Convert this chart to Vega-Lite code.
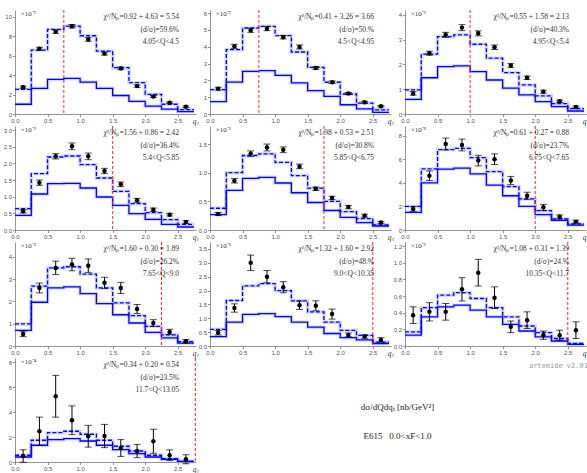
{
"$schema":"https://vega.github.io/schema/vega-lite/v6.json",
"background":"white",
"padding":{"left":3,"top":9,"right":0,"bottom":0},
"datasets":{
"b":[
{"p":1,"q":0.125,"lo":0,"hi":0.25,"y":2.75,"e":0.12,"d":2.53,"s":1.0},
{"p":1,"q":0.375,"lo":0.25,"hi":0.5,"y":6.7,"e":0.15,"d":6.56,"s":2.63},
{"p":1,"q":0.625,"lo":0.5,"hi":0.75,"y":8.45,"e":0.18,"d":8.68,"s":3.55},
{"p":1,"q":0.875,"lo":0.75,"hi":1,"y":9.0,"e":0.18,"d":9.02,"s":3.65},
{"p":1,"q":1.125,"lo":1,"hi":1.25,"y":7.65,"e":0.18,"d":8.03,"s":3.28},
{"p":1,"q":1.375,"lo":1.25,"hi":1.5,"y":6.2,"e":0.15,"d":6.46,"s":2.63},
{"p":1,"q":1.625,"lo":1.5,"hi":1.75,"y":4.68,"e":0.13,"d":4.75,"s":1.9},
{"p":1,"q":1.875,"lo":1.75,"hi":2,"y":2.86,"e":0.12,"d":3.21,"s":1.3},
{"p":1,"q":2.125,"lo":2,"hi":2.25,"y":1.8,"e":0.1,"d":2.02,"s":0.8},
{"p":1,"q":2.375,"lo":2.25,"hi":2.5,"y":1.15,"e":0.09,"d":1.0,"s":0.5},
{"p":1,"q":2.625,"lo":2.5,"hi":2.75,"y":0.75,"e":0.08,"d":0.45,"s":0.25},
{"p":2,"q":0.125,"lo":0,"hi":0.25,"y":1.51,"e":0.08,"d":1.45,"s":0.74},
{"p":2,"q":0.375,"lo":0.25,"hi":0.5,"y":4.03,"e":0.12,"d":3.83,"s":1.9},
{"p":2,"q":0.625,"lo":0.5,"hi":0.75,"y":4.98,"e":0.12,"d":5.12,"s":2.54},
{"p":2,"q":0.875,"lo":0.75,"hi":1,"y":5.08,"e":0.12,"d":5.22,"s":2.58},
{"p":2,"q":1.125,"lo":1,"hi":1.25,"y":4.57,"e":0.1,"d":4.67,"s":2.3},
{"p":2,"q":1.375,"lo":1.25,"hi":1.5,"y":3.99,"e":0.12,"d":3.69,"s":1.85},
{"p":2,"q":1.625,"lo":1.5,"hi":1.75,"y":2.74,"e":0.08,"d":2.78,"s":1.39},
{"p":2,"q":1.875,"lo":1.75,"hi":2,"y":1.89,"e":0.07,"d":1.89,"s":1.05},
{"p":2,"q":2.125,"lo":2,"hi":2.25,"y":1.22,"e":0.06,"d":1.19,"s":0.55},
{"p":2,"q":2.375,"lo":2.25,"hi":2.5,"y":0.7,"e":0.06,"d":0.65,"s":0.3},
{"p":2,"q":2.625,"lo":2.5,"hi":2.75,"y":0.46,"e":0.05,"d":0.25,"s":0.1},
{"p":3,"q":0.125,"lo":0,"hi":0.25,"y":0.83,"e":0.07,"d":0.97,"s":0.59},
{"p":3,"q":0.375,"lo":0.25,"hi":0.5,"y":2.45,"e":0.08,"d":2.41,"s":1.46},
{"p":3,"q":0.625,"lo":0.5,"hi":0.75,"y":3.19,"e":0.1,"d":3.12,"s":1.91},
{"p":3,"q":0.875,"lo":0.75,"hi":1,"y":3.48,"e":0.12,"d":3.19,"s":1.94},
{"p":3,"q":1.125,"lo":1,"hi":1.25,"y":3.25,"e":0.1,"d":2.81,"s":1.71},
{"p":3,"q":1.375,"lo":1.25,"hi":1.5,"y":2.69,"e":0.09,"d":2.25,"s":1.37},
{"p":3,"q":1.625,"lo":1.5,"hi":1.75,"y":1.95,"e":0.08,"d":1.67,"s":1.04},
{"p":3,"q":1.875,"lo":1.75,"hi":2,"y":1.46,"e":0.07,"d":1.17,"s":0.77},
{"p":3,"q":2.125,"lo":2,"hi":2.25,"y":0.9,"e":0.06,"d":0.73,"s":0.5},
{"p":3,"q":2.375,"lo":2.25,"hi":2.5,"y":0.51,"e":0.05,"d":0.42,"s":0.3},
{"p":3,"q":2.625,"lo":2.5,"hi":2.75,"y":0.28,"e":0.04,"d":0.22,"s":0.12},
{"p":4,"q":0.125,"lo":0,"hi":0.25,"y":0.56,"e":0.05,"d":0.64,"s":0.44},
{"p":4,"q":0.375,"lo":0.25,"hi":0.5,"y":1.42,"e":0.08,"d":1.69,"s":1.08},
{"p":4,"q":0.625,"lo":0.5,"hi":0.75,"y":2.21,"e":0.08,"d":2.19,"s":1.39},
{"p":4,"q":0.875,"lo":0.75,"hi":1,"y":2.51,"e":0.1,"d":2.22,"s":1.4},
{"p":4,"q":1.125,"lo":1,"hi":1.25,"y":2.21,"e":0.1,"d":1.96,"s":1.26},
{"p":4,"q":1.375,"lo":1.25,"hi":1.5,"y":1.77,"e":0.08,"d":1.56,"s":0.99},
{"p":4,"q":1.625,"lo":1.5,"hi":1.75,"y":1.37,"e":0.07,"d":1.16,"s":0.74},
{"p":4,"q":1.875,"lo":1.75,"hi":2,"y":0.89,"e":0.06,"d":0.79,"s":0.49},
{"p":4,"q":2.125,"lo":2,"hi":2.25,"y":0.61,"e":0.05,"d":0.52,"s":0.32},
{"p":4,"q":2.375,"lo":2.25,"hi":2.5,"y":0.46,"e":0.04,"d":0.31,"s":0.17},
{"p":4,"q":2.625,"lo":2.5,"hi":2.75,"y":0.24,"e":0.04,"d":0.17,"s":0.09},
{"p":5,"q":0.125,"lo":0,"hi":0.25,"y":0.28,"e":0.025,"d":0.38,"s":0.27},
{"p":5,"q":0.375,"lo":0.25,"hi":0.5,"y":0.86,"e":0.04,"d":1.0,"s":0.69},
{"p":5,"q":0.625,"lo":0.5,"hi":0.75,"y":1.33,"e":0.05,"d":1.3,"s":0.9},
{"p":5,"q":0.875,"lo":0.75,"hi":1,"y":1.44,"e":0.06,"d":1.33,"s":0.92},
{"p":5,"q":1.125,"lo":1,"hi":1.25,"y":1.4,"e":0.05,"d":1.18,"s":0.82},
{"p":5,"q":1.375,"lo":1.25,"hi":1.5,"y":1.11,"e":0.04,"d":0.95,"s":0.65},
{"p":5,"q":1.625,"lo":1.5,"hi":1.75,"y":0.72,"e":0.03,"d":0.73,"s":0.48},
{"p":5,"q":1.875,"lo":1.75,"hi":2,"y":0.56,"e":0.03,"d":0.5,"s":0.34},
{"p":5,"q":2.125,"lo":2,"hi":2.25,"y":0.4,"e":0.03,"d":0.32,"s":0.22},
{"p":5,"q":2.375,"lo":2.25,"hi":2.5,"y":0.25,"e":0.025,"d":0.2,"s":0.13},
{"p":5,"q":2.625,"lo":2.5,"hi":2.75,"y":0.13,"e":0.02,"d":0.09,"s":0.07},
{"p":6,"q":0.125,"lo":0,"hi":0.25,"y":1.78,"e":0.2,"d":2.0,"s":1.5},
{"p":6,"q":0.375,"lo":0.25,"hi":0.5,"y":4.6,"e":0.4,"d":5.17,"s":4.0},
{"p":6,"q":0.625,"lo":0.5,"hi":0.75,"y":7.29,"e":0.5,"d":6.81,"s":5.15},
{"p":6,"q":0.875,"lo":0.75,"hi":1,"y":7.2,"e":0.5,"d":6.92,"s":5.25},
{"p":6,"q":1.125,"lo":1,"hi":1.25,"y":5.88,"e":0.45,"d":6.13,"s":4.75},
{"p":6,"q":1.375,"lo":1.25,"hi":1.5,"y":6.0,"e":0.45,"d":4.95,"s":3.8},
{"p":6,"q":1.625,"lo":1.5,"hi":1.75,"y":4.19,"e":0.35,"d":3.68,"s":2.9},
{"p":6,"q":1.875,"lo":1.75,"hi":2,"y":2.9,"e":0.3,"d":2.63,"s":2.0},
{"p":6,"q":2.125,"lo":2,"hi":2.25,"y":1.92,"e":0.25,"d":1.64,"s":1.3},
{"p":6,"q":2.375,"lo":2.25,"hi":2.5,"y":1.13,"e":0.15,"d":0.93,"s":0.82},
{"p":6,"q":2.625,"lo":2.5,"hi":2.75,"y":0.71,"e":0.12,"d":0.51,"s":0.42},
{"p":7,"q":0.125,"lo":0,"hi":0.25,"y":0.54,"e":0.12,"d":0.99,"s":0.7},
{"p":7,"q":0.375,"lo":0.25,"hi":0.5,"y":2.6,"e":0.22,"d":2.68,"s":1.96},
{"p":7,"q":0.625,"lo":0.5,"hi":0.75,"y":3.5,"e":0.3,"d":3.5,"s":2.6},
{"p":7,"q":0.875,"lo":0.75,"hi":1,"y":3.65,"e":0.28,"d":3.55,"s":2.65},
{"p":7,"q":1.125,"lo":1,"hi":1.25,"y":3.6,"e":0.3,"d":3.22,"s":2.35},
{"p":7,"q":1.375,"lo":1.25,"hi":1.5,"y":2.83,"e":0.25,"d":2.6,"s":1.9},
{"p":7,"q":1.625,"lo":1.5,"hi":1.75,"y":2.6,"e":0.25,"d":1.93,"s":1.4},
{"p":7,"q":1.875,"lo":1.75,"hi":2,"y":1.66,"e":0.2,"d":1.36,"s":1.03},
{"p":7,"q":2.125,"lo":2,"hi":2.25,"y":1.03,"e":0.15,"d":0.88,"s":0.61},
{"p":7,"q":2.375,"lo":2.25,"hi":2.5,"y":0.63,"e":0.12,"d":0.5,"s":0.36},
{"p":7,"q":2.625,"lo":2.5,"hi":2.75,"y":0.21,"e":0.08,"d":0.2,"s":0.13},
{"p":8,"q":0.125,"lo":0,"hi":0.25,"y":0.48,"e":0.08,"d":0.6,"s":0.34},
{"p":8,"q":0.375,"lo":0.25,"hi":0.5,"y":1.37,"e":0.15,"d":1.64,"s":0.86},
{"p":8,"q":0.625,"lo":0.5,"hi":0.75,"y":3.0,"e":0.28,"d":2.17,"s":1.14},
{"p":8,"q":0.875,"lo":0.75,"hi":1,"y":2.5,"e":0.22,"d":2.25,"s":1.17},
{"p":8,"q":1.125,"lo":1,"hi":1.25,"y":2.12,"e":0.2,"d":2.0,"s":1.06},
{"p":8,"q":1.375,"lo":1.25,"hi":1.5,"y":1.47,"e":0.15,"d":1.63,"s":0.86},
{"p":8,"q":1.625,"lo":1.5,"hi":1.75,"y":1.45,"e":0.18,"d":1.23,"s":0.68},
{"p":8,"q":1.875,"lo":1.75,"hi":2,"y":1.15,"e":0.18,"d":0.86,"s":0.45},
{"p":8,"q":2.125,"lo":2,"hi":2.25,"y":0.4,"e":0.07,"d":0.56,"s":0.3},
{"p":8,"q":2.375,"lo":2.25,"hi":2.5,"y":0.34,"e":0.06,"d":0.38,"s":0.22},
{"p":8,"q":2.625,"lo":2.5,"hi":2.75,"y":0.22,"e":0.08,"d":0.14,"s":0.09},
{"p":9,"q":0.125,"lo":0,"hi":0.25,"y":0.37,"e":0.1,"d":0.17,"s":0.13},
{"p":9,"q":0.375,"lo":0.25,"hi":0.5,"y":0.41,"e":0.11,"d":0.46,"s":0.35},
{"p":9,"q":0.625,"lo":0.5,"hi":0.75,"y":0.41,"e":0.1,"d":0.61,"s":0.47},
{"p":9,"q":0.875,"lo":0.75,"hi":1,"y":0.68,"e":0.14,"d":0.64,"s":0.49},
{"p":9,"q":1.125,"lo":1,"hi":1.25,"y":0.88,"e":0.16,"d":0.57,"s":0.43},
{"p":9,"q":1.375,"lo":1.25,"hi":1.5,"y":0.58,"e":0.13,"d":0.46,"s":0.35},
{"p":9,"q":1.625,"lo":1.5,"hi":1.75,"y":0.23,"e":0.07,"d":0.35,"s":0.26},
{"p":9,"q":1.875,"lo":1.75,"hi":2,"y":0.31,"e":0.1,"d":0.24,"s":0.18},
{"p":9,"q":2.125,"lo":2,"hi":2.25,"y":0.13,"e":0.05,"d":0.16,"s":0.11},
{"p":9,"q":2.375,"lo":2.25,"hi":2.5,"y":0.13,"e":0.06,"d":0.09,"s":0.06},
{"p":9,"q":2.625,"lo":2.5,"hi":2.75,"y":0.19,"e":0.1,"d":0.03,"s":0.02},
{"p":10,"q":0.125,"lo":0,"hi":0.25,"y":0.48,"e":0.5,"d":0.54,"s":0.4},
{"p":10,"q":0.375,"lo":0.25,"hi":0.5,"y":2.46,"e":1.13,"d":1.74,"s":1.34},
{"p":10,"q":0.625,"lo":0.5,"hi":0.75,"y":5.26,"e":1.67,"d":2.35,"s":1.79},
{"p":10,"q":0.875,"lo":0.75,"hi":1,"y":3.34,"e":1.15,"d":2.46,"s":1.87},
{"p":10,"q":1.125,"lo":1,"hi":1.25,"y":2.06,"e":0.87,"d":2.22,"s":1.68},
{"p":10,"q":1.375,"lo":1.25,"hi":1.5,"y":2.08,"e":0.93,"d":1.74,"s":1.34},
{"p":10,"q":1.625,"lo":1.5,"hi":1.75,"y":1.12,"e":0.67,"d":1.26,"s":0.99},
{"p":10,"q":1.875,"lo":1.75,"hi":2,"y":0.88,"e":0.53,"d":0.88,"s":0.67},
{"p":10,"q":2.125,"lo":2,"hi":2.25,"y":1.66,"e":0.96,"d":0.54,"s":0.4},
{"p":10,"q":2.375,"lo":2.25,"hi":2.5,"y":0.54,"e":0.43,"d":0.27,"s":0.21},
{"p":10,"q":2.625,"lo":2.5,"hi":2.75,"y":0.22,"e":0.36,"d":0.05,"s":0.05}
],
"red":[{"p":1,"q":0.75},{"p":2,"q":0.75},{"p":3,"q":1.0},{"p":4,"q":1.5},{"p":5,"q":1.75},{"p":6,"q":2.0},{"p":7,"q":2.25},{"p":8,"q":2.5},{"p":9,"q":2.5},{"p":10,"q":2.77}],
"notes":[
{"p":1,"line":1,"m":0,"t":"χ²/Nₚ=0.92 + 4.63 = 5.54"},{"p":1,"line":2,"m":0,"t":"(d/σ)=59.6%"},{"p":1,"line":3,"m":0,"t":"4.05<Q<4.5"},{"p":1,"line":1,"m":1,"t":"×10⁻²"},
{"p":2,"line":1,"m":0,"t":"χ²/Nₚ=0.41 + 3.26 = 3.66"},{"p":2,"line":2,"m":0,"t":"(d/σ)=50.%"},{"p":2,"line":3,"m":0,"t":"4.5<Q<4.95"},{"p":2,"line":1,"m":1,"t":"×10⁻²"},
{"p":3,"line":1,"m":0,"t":"χ²/Nₚ=0.55 + 1.58 = 2.13"},{"p":3,"line":2,"m":0,"t":"(d/σ)=40.3%"},{"p":3,"line":3,"m":0,"t":"4.95<Q<5.4"},{"p":3,"line":1,"m":1,"t":"×10⁻²"},
{"p":4,"line":1,"m":0,"t":"χ²/Nₚ=1.56 + 0.86 = 2.42"},{"p":4,"line":2,"m":0,"t":"(d/σ)=36.4%"},{"p":4,"line":3,"m":0,"t":"5.4<Q<5.85"},{"p":4,"line":1,"m":1,"t":"×10⁻²"},
{"p":5,"line":1,"m":0,"t":"χ²/Nₚ=1.98 + 0.53 = 2.51"},{"p":5,"line":2,"m":0,"t":"(d/σ)=30.8%"},{"p":5,"line":3,"m":0,"t":"5.85<Q<6.75"},{"p":5,"line":1,"m":1,"t":"×10⁻³"},
{"p":6,"line":1,"m":0,"t":"χ²/Nₚ=0.61 + 0.27 = 0.88"},{"p":6,"line":2,"m":0,"t":"(d/σ)=23.7%"},{"p":6,"line":3,"m":0,"t":"6.75<Q<7.65"},{"p":6,"line":1,"m":1,"t":"×10⁻³"},
{"p":7,"line":1,"m":0,"t":"χ²/Nₚ=1.60 + 0.30 = 1.89"},{"p":7,"line":2,"m":0,"t":"(d/σ)=26.2%"},{"p":7,"line":3,"m":0,"t":"7.65<Q<9.0"},{"p":7,"line":1,"m":1,"t":"×10⁻³"},
{"p":8,"line":1,"m":0,"t":"χ²/Nₚ=1.32 + 1.60 = 2.92"},{"p":8,"line":2,"m":0,"t":"(d/σ)=48.%"},{"p":8,"line":3,"m":0,"t":"9.0<Q<10.35"},{"p":8,"line":1,"m":1,"t":"×10⁻³"},
{"p":9,"line":1,"m":0,"t":"χ²/Nₚ=1.08 + 0.31 = 1.39"},{"p":9,"line":2,"m":0,"t":"(d/σ)=24.%"},{"p":9,"line":3,"m":0,"t":"10.35<Q<11.7"},{"p":9,"line":1,"m":1,"t":"×10⁻³"},
{"p":10,"line":1,"m":0,"t":"χ²/Nₚ=0.34 + 0.20 = 0.54"},{"p":10,"line":2,"m":0,"t":"(d/σ)=23.5%"},{"p":10,"line":3,"m":0,"t":"11.7<Q<13.05"},{"p":10,"line":1,"m":1,"t":"×10⁻⁴"}
],
"foot":[{"line":1,"t":"dσ/dQdqₜ [nb/GeV²]"},{"line":2,"t":"E615\u00a0\u00a0\u00a00.0<xF<1.0"}],
"tag":[{"line":1,"t":"artemide v2.01"}]
},
"concat":[
{"width":181,"height":104,"resolve":{"scale":{"y":"independent"}},"layer":[
 {"layer":[
  {"data":{"name":"b"},"transform":[{"filter":"datum.p==1"},{"fold":["d","s"],"as":["series","v"]},{"fold":["lo","hi"],"as":["k","xe"]}],"mark":{"type":"line","strokeWidth":3.5,"color":"#7a7aff","opacity":0.3},"encoding":{"x":{"field":"xe","type":"quantitative","scale":{"domain":[0,2.78],"nice":false,"zero":false},"axis":{"values":[0,0.5,1,1.5,2,2.5],"format":".1f","labelOverlap":false,"title":"qₜ","titleX":183,"titleY":7,"titleAlign":"right","titleBaseline":"middle"}},"y":{"field":"v","type":"quantitative","scale":{"domain":[0,10.67],"nice":false},"axis":{"values":[0,2,4,6,8,10],"format":"d","labelOverlap":false,"title":null}},"detail":{"field":"series"},"order":[{"field":"xe","type":"quantitative"},{"field":"k","type":"nominal"}]}},
  {"data":{"name":"b"},"transform":[{"filter":"datum.p==1"},{"fold":["d","s"],"as":["series","v"]},{"fold":["lo","hi"],"as":["k","xe"]}],"mark":{"type":"line","strokeWidth":1.3,"color":"#0000ff"},"encoding":{"x":{"field":"xe","type":"quantitative","axis":{"values":[0,0.5,1,1.5,2,2.5],"format":".1f","labelOverlap":false,"title":"qₜ","titleX":183,"titleY":7,"titleAlign":"right","titleBaseline":"middle"}},"y":{"field":"v","type":"quantitative","axis":{"values":[0,2,4,6,8,10],"format":"d","labelOverlap":false,"title":null}},"strokeDash":{"field":"series","type":"nominal","scale":{"domain":["s","d"],"range":[[1,0],[4,2]]},"legend":null},"order":[{"field":"xe","type":"quantitative"},{"field":"k","type":"nominal"}]}},
  {"data":{"name":"red"},"transform":[{"filter":"datum.p==1"}],"mark":{"type":"rule","color":"#ff2a2a","strokeWidth":1,"strokeDash":[3,2]},"encoding":{"x":{"field":"q","type":"quantitative","axis":{"values":[0,0.5,1,1.5,2,2.5],"format":".1f","labelOverlap":false,"title":"qₜ","titleX":183,"titleY":7,"titleAlign":"right","titleBaseline":"middle"}}}},
  {"data":{"name":"b"},"transform":[{"filter":"datum.p==1"}],"mark":{"type":"errorbar","color":"black","thickness":1,"ticks":{"size":7}},"encoding":{"x":{"field":"q","type":"quantitative","axis":{"values":[0,0.5,1,1.5,2,2.5],"format":".1f","labelOverlap":false,"title":"qₜ","titleX":183,"titleY":7,"titleAlign":"right","titleBaseline":"middle"}},"y":{"field":"y","type":"quantitative","axis":{"values":[0,2,4,6,8,10],"format":"d","labelOverlap":false,"title":null}},"yError":{"field":"e"}}},
  {"data":{"name":"b"},"transform":[{"filter":"datum.p==1"}],"mark":{"type":"circle","size":20,"color":"black","opacity":1},"encoding":{"x":{"field":"q","type":"quantitative","axis":{"values":[0,0.5,1,1.5,2,2.5],"format":".1f","labelOverlap":false,"title":"qₜ","titleX":183,"titleY":7,"titleAlign":"right","titleBaseline":"middle"}},"y":{"field":"y","type":"quantitative","axis":{"values":[0,2,4,6,8,10],"format":"d","labelOverlap":false,"title":null}}}}
 ]},
 {"data":{"name":"notes"},"transform":[{"filter":"datum.p==1"}],"encoding":{"y":{"field":"line","type":"quantitative","scale":{"domain":[0.449,8.64],"reverse":true,"nice":false,"zero":false},"axis":null},"text":{"field":"t"}},"layer":[
  {"transform":[{"filter":"datum.m==0"}],"mark":{"type":"text","align":"right","baseline":"middle","fontSize":7.5,"color":"#333"},"encoding":{"x":{"datum":2.52,"type":"quantitative","axis":{"values":[0,0.5,1,1.5,2,2.5],"format":".1f","labelOverlap":false,"title":"qₜ","titleX":183,"titleY":7,"titleAlign":"right","titleBaseline":"middle"}}}},
  {"transform":[{"filter":"datum.m==1"}],"mark":{"type":"text","align":"left","baseline":"middle","dy":-3,"fontSize":7,"color":"#333"},"encoding":{"x":{"datum":0.09,"type":"quantitative","axis":{"values":[0,0.5,1,1.5,2,2.5],"format":".1f","labelOverlap":false,"title":"qₜ","titleX":183,"titleY":7,"titleAlign":"right","titleBaseline":"middle"}}}}
 ]}
]},
{"width":181,"height":104,"resolve":{"scale":{"y":"independent"}},"layer":[
 {"layer":[
  {"data":{"name":"b"},"transform":[{"filter":"datum.p==2"},{"fold":["d","s"],"as":["series","v"]},{"fold":["lo","hi"],"as":["k","xe"]}],"mark":{"type":"line","strokeWidth":3.5,"color":"#7a7aff","opacity":0.3},"encoding":{"x":{"field":"xe","type":"quantitative","scale":{"domain":[0,2.78],"nice":false,"zero":false},"axis":{"values":[0,0.5,1,1.5,2,2.5],"format":".1f","labelOverlap":false,"title":"qₜ","titleX":183,"titleY":7,"titleAlign":"right","titleBaseline":"middle"}},"y":{"field":"v","type":"quantitative","scale":{"domain":[0,6.19],"nice":false},"axis":{"values":[0,1,2,3,4,5,6],"format":"d","labelOverlap":false,"title":null}},"detail":{"field":"series"},"order":[{"field":"xe","type":"quantitative"},{"field":"k","type":"nominal"}]}},
  {"data":{"name":"b"},"transform":[{"filter":"datum.p==2"},{"fold":["d","s"],"as":["series","v"]},{"fold":["lo","hi"],"as":["k","xe"]}],"mark":{"type":"line","strokeWidth":1.3,"color":"#0000ff"},"encoding":{"x":{"field":"xe","type":"quantitative","axis":{"values":[0,0.5,1,1.5,2,2.5],"format":".1f","labelOverlap":false,"title":"qₜ","titleX":183,"titleY":7,"titleAlign":"right","titleBaseline":"middle"}},"y":{"field":"v","type":"quantitative","axis":{"values":[0,1,2,3,4,5,6],"format":"d","labelOverlap":false,"title":null}},"strokeDash":{"field":"series","type":"nominal","scale":{"domain":["s","d"],"range":[[1,0],[4,2]]},"legend":null},"order":[{"field":"xe","type":"quantitative"},{"field":"k","type":"nominal"}]}},
  {"data":{"name":"red"},"transform":[{"filter":"datum.p==2"}],"mark":{"type":"rule","color":"#ff2a2a","strokeWidth":1,"strokeDash":[3,2]},"encoding":{"x":{"field":"q","type":"quantitative","axis":{"values":[0,0.5,1,1.5,2,2.5],"format":".1f","labelOverlap":false,"title":"qₜ","titleX":183,"titleY":7,"titleAlign":"right","titleBaseline":"middle"}}}},
  {"data":{"name":"b"},"transform":[{"filter":"datum.p==2"}],"mark":{"type":"errorbar","color":"black","thickness":1,"ticks":{"size":7}},"encoding":{"x":{"field":"q","type":"quantitative","axis":{"values":[0,0.5,1,1.5,2,2.5],"format":".1f","labelOverlap":false,"title":"qₜ","titleX":183,"titleY":7,"titleAlign":"right","titleBaseline":"middle"}},"y":{"field":"y","type":"quantitative","axis":{"values":[0,1,2,3,4,5,6],"format":"d","labelOverlap":false,"title":null}},"yError":{"field":"e"}}},
  {"data":{"name":"b"},"transform":[{"filter":"datum.p==2"}],"mark":{"type":"circle","size":20,"color":"black","opacity":1},"encoding":{"x":{"field":"q","type":"quantitative","axis":{"values":[0,0.5,1,1.5,2,2.5],"format":".1f","labelOverlap":false,"title":"qₜ","titleX":183,"titleY":7,"titleAlign":"right","titleBaseline":"middle"}},"y":{"field":"y","type":"quantitative","axis":{"values":[0,1,2,3,4,5,6],"format":"d","labelOverlap":false,"title":null}}}}
 ]},
 {"data":{"name":"notes"},"transform":[{"filter":"datum.p==2"}],"encoding":{"y":{"field":"line","type":"quantitative","scale":{"domain":[0.449,8.64],"reverse":true,"nice":false,"zero":false},"axis":null},"text":{"field":"t"}},"layer":[
  {"transform":[{"filter":"datum.m==0"}],"mark":{"type":"text","align":"right","baseline":"middle","fontSize":7.5,"color":"#333"},"encoding":{"x":{"datum":2.52,"type":"quantitative","axis":{"values":[0,0.5,1,1.5,2,2.5],"format":".1f","labelOverlap":false,"title":"qₜ","titleX":183,"titleY":7,"titleAlign":"right","titleBaseline":"middle"}}}},
  {"transform":[{"filter":"datum.m==1"}],"mark":{"type":"text","align":"left","baseline":"middle","dy":-3,"fontSize":7,"color":"#333"},"encoding":{"x":{"datum":0.09,"type":"quantitative","axis":{"values":[0,0.5,1,1.5,2,2.5],"format":".1f","labelOverlap":false,"title":"qₜ","titleX":183,"titleY":7,"titleAlign":"right","titleBaseline":"middle"}}}}
 ]}
]},
{"width":181,"height":104,"resolve":{"scale":{"y":"independent"}},"layer":[
 {"layer":[
  {"data":{"name":"b"},"transform":[{"filter":"datum.p==3"},{"fold":["d","s"],"as":["series","v"]},{"fold":["lo","hi"],"as":["k","xe"]}],"mark":{"type":"line","strokeWidth":3.5,"color":"#7a7aff","opacity":0.3},"encoding":{"x":{"field":"xe","type":"quantitative","scale":{"domain":[0,2.78],"nice":false,"zero":false},"axis":{"values":[0,0.5,1,1.5,2,2.5],"format":".1f","labelOverlap":false,"title":"qₜ","titleX":183,"titleY":7,"titleAlign":"right","titleBaseline":"middle"}},"y":{"field":"v","type":"quantitative","scale":{"domain":[0,4.19],"nice":false},"axis":{"values":[0,1,2,3,4],"format":"d","labelOverlap":false,"title":null}},"detail":{"field":"series"},"order":[{"field":"xe","type":"quantitative"},{"field":"k","type":"nominal"}]}},
  {"data":{"name":"b"},"transform":[{"filter":"datum.p==3"},{"fold":["d","s"],"as":["series","v"]},{"fold":["lo","hi"],"as":["k","xe"]}],"mark":{"type":"line","strokeWidth":1.3,"color":"#0000ff"},"encoding":{"x":{"field":"xe","type":"quantitative","axis":{"values":[0,0.5,1,1.5,2,2.5],"format":".1f","labelOverlap":false,"title":"qₜ","titleX":183,"titleY":7,"titleAlign":"right","titleBaseline":"middle"}},"y":{"field":"v","type":"quantitative","axis":{"values":[0,1,2,3,4],"format":"d","labelOverlap":false,"title":null}},"strokeDash":{"field":"series","type":"nominal","scale":{"domain":["s","d"],"range":[[1,0],[4,2]]},"legend":null},"order":[{"field":"xe","type":"quantitative"},{"field":"k","type":"nominal"}]}},
  {"data":{"name":"red"},"transform":[{"filter":"datum.p==3"}],"mark":{"type":"rule","color":"#ff2a2a","strokeWidth":1,"strokeDash":[3,2]},"encoding":{"x":{"field":"q","type":"quantitative","axis":{"values":[0,0.5,1,1.5,2,2.5],"format":".1f","labelOverlap":false,"title":"qₜ","titleX":183,"titleY":7,"titleAlign":"right","titleBaseline":"middle"}}}},
  {"data":{"name":"b"},"transform":[{"filter":"datum.p==3"}],"mark":{"type":"errorbar","color":"black","thickness":1,"ticks":{"size":7}},"encoding":{"x":{"field":"q","type":"quantitative","axis":{"values":[0,0.5,1,1.5,2,2.5],"format":".1f","labelOverlap":false,"title":"qₜ","titleX":183,"titleY":7,"titleAlign":"right","titleBaseline":"middle"}},"y":{"field":"y","type":"quantitative","axis":{"values":[0,1,2,3,4],"format":"d","labelOverlap":false,"title":null}},"yError":{"field":"e"}}},
  {"data":{"name":"b"},"transform":[{"filter":"datum.p==3"}],"mark":{"type":"circle","size":20,"color":"black","opacity":1},"encoding":{"x":{"field":"q","type":"quantitative","axis":{"values":[0,0.5,1,1.5,2,2.5],"format":".1f","labelOverlap":false,"title":"qₜ","titleX":183,"titleY":7,"titleAlign":"right","titleBaseline":"middle"}},"y":{"field":"y","type":"quantitative","axis":{"values":[0,1,2,3,4],"format":"d","labelOverlap":false,"title":null}}}}
 ]},
 {"data":{"name":"notes"},"transform":[{"filter":"datum.p==3"}],"encoding":{"y":{"field":"line","type":"quantitative","scale":{"domain":[0.449,8.64],"reverse":true,"nice":false,"zero":false},"axis":null},"text":{"field":"t"}},"layer":[
  {"transform":[{"filter":"datum.m==0"}],"mark":{"type":"text","align":"right","baseline":"middle","fontSize":7.5,"color":"#333"},"encoding":{"x":{"datum":2.52,"type":"quantitative","axis":{"values":[0,0.5,1,1.5,2,2.5],"format":".1f","labelOverlap":false,"title":"qₜ","titleX":183,"titleY":7,"titleAlign":"right","titleBaseline":"middle"}}}},
  {"transform":[{"filter":"datum.m==1"}],"mark":{"type":"text","align":"left","baseline":"middle","dy":-3,"fontSize":7,"color":"#333"},"encoding":{"x":{"datum":0.09,"type":"quantitative","axis":{"values":[0,0.5,1,1.5,2,2.5],"format":".1f","labelOverlap":false,"title":"qₜ","titleX":183,"titleY":7,"titleAlign":"right","titleBaseline":"middle"}}}}
 ]}
]},
{"width":181,"height":104,"resolve":{"scale":{"y":"independent"}},"layer":[
 {"layer":[
  {"data":{"name":"b"},"transform":[{"filter":"datum.p==4"},{"fold":["d","s"],"as":["series","v"]},{"fold":["lo","hi"],"as":["k","xe"]}],"mark":{"type":"line","strokeWidth":3.5,"color":"#7a7aff","opacity":0.3},"encoding":{"x":{"field":"xe","type":"quantitative","scale":{"domain":[0,2.78],"nice":false,"zero":false},"axis":{"values":[0,0.5,1,1.5,2,2.5],"format":".1f","labelOverlap":false,"title":"qₜ","titleX":183,"titleY":7,"titleAlign":"right","titleBaseline":"middle"}},"y":{"field":"v","type":"quantitative","scale":{"domain":[0,3.12],"nice":false},"axis":{"values":[0,0.5,1,1.5,2,2.5,3],"format":".1f","labelOverlap":false,"title":null}},"detail":{"field":"series"},"order":[{"field":"xe","type":"quantitative"},{"field":"k","type":"nominal"}]}},
  {"data":{"name":"b"},"transform":[{"filter":"datum.p==4"},{"fold":["d","s"],"as":["series","v"]},{"fold":["lo","hi"],"as":["k","xe"]}],"mark":{"type":"line","strokeWidth":1.3,"color":"#0000ff"},"encoding":{"x":{"field":"xe","type":"quantitative","axis":{"values":[0,0.5,1,1.5,2,2.5],"format":".1f","labelOverlap":false,"title":"qₜ","titleX":183,"titleY":7,"titleAlign":"right","titleBaseline":"middle"}},"y":{"field":"v","type":"quantitative","axis":{"values":[0,0.5,1,1.5,2,2.5,3],"format":".1f","labelOverlap":false,"title":null}},"strokeDash":{"field":"series","type":"nominal","scale":{"domain":["s","d"],"range":[[1,0],[4,2]]},"legend":null},"order":[{"field":"xe","type":"quantitative"},{"field":"k","type":"nominal"}]}},
  {"data":{"name":"red"},"transform":[{"filter":"datum.p==4"}],"mark":{"type":"rule","color":"#ff2a2a","strokeWidth":1,"strokeDash":[3,2]},"encoding":{"x":{"field":"q","type":"quantitative","axis":{"values":[0,0.5,1,1.5,2,2.5],"format":".1f","labelOverlap":false,"title":"qₜ","titleX":183,"titleY":7,"titleAlign":"right","titleBaseline":"middle"}}}},
  {"data":{"name":"b"},"transform":[{"filter":"datum.p==4"}],"mark":{"type":"errorbar","color":"black","thickness":1,"ticks":{"size":7}},"encoding":{"x":{"field":"q","type":"quantitative","axis":{"values":[0,0.5,1,1.5,2,2.5],"format":".1f","labelOverlap":false,"title":"qₜ","titleX":183,"titleY":7,"titleAlign":"right","titleBaseline":"middle"}},"y":{"field":"y","type":"quantitative","axis":{"values":[0,0.5,1,1.5,2,2.5,3],"format":".1f","labelOverlap":false,"title":null}},"yError":{"field":"e"}}},
  {"data":{"name":"b"},"transform":[{"filter":"datum.p==4"}],"mark":{"type":"circle","size":20,"color":"black","opacity":1},"encoding":{"x":{"field":"q","type":"quantitative","axis":{"values":[0,0.5,1,1.5,2,2.5],"format":".1f","labelOverlap":false,"title":"qₜ","titleX":183,"titleY":7,"titleAlign":"right","titleBaseline":"middle"}},"y":{"field":"y","type":"quantitative","axis":{"values":[0,0.5,1,1.5,2,2.5,3],"format":".1f","labelOverlap":false,"title":null}}}}
 ]},
 {"data":{"name":"notes"},"transform":[{"filter":"datum.p==4"}],"encoding":{"y":{"field":"line","type":"quantitative","scale":{"domain":[0.449,8.64],"reverse":true,"nice":false,"zero":false},"axis":null},"text":{"field":"t"}},"layer":[
  {"transform":[{"filter":"datum.m==0"}],"mark":{"type":"text","align":"right","baseline":"middle","fontSize":7.5,"color":"#333"},"encoding":{"x":{"datum":2.52,"type":"quantitative","axis":{"values":[0,0.5,1,1.5,2,2.5],"format":".1f","labelOverlap":false,"title":"qₜ","titleX":183,"titleY":7,"titleAlign":"right","titleBaseline":"middle"}}}},
  {"transform":[{"filter":"datum.m==1"}],"mark":{"type":"text","align":"left","baseline":"middle","dy":-3,"fontSize":7,"color":"#333"},"encoding":{"x":{"datum":0.09,"type":"quantitative","axis":{"values":[0,0.5,1,1.5,2,2.5],"format":".1f","labelOverlap":false,"title":"qₜ","titleX":183,"titleY":7,"titleAlign":"right","titleBaseline":"middle"}}}}
 ]}
]},
{"width":181,"height":104,"resolve":{"scale":{"y":"independent"}},"layer":[
 {"layer":[
  {"data":{"name":"b"},"transform":[{"filter":"datum.p==5"},{"fold":["d","s"],"as":["series","v"]},{"fold":["lo","hi"],"as":["k","xe"]}],"mark":{"type":"line","strokeWidth":3.5,"color":"#7a7aff","opacity":0.3},"encoding":{"x":{"field":"xe","type":"quantitative","scale":{"domain":[0,2.78],"nice":false,"zero":false},"axis":{"values":[0,0.5,1,1.5,2,2.5],"format":".1f","labelOverlap":false,"title":"qₜ","titleX":183,"titleY":7,"titleAlign":"right","titleBaseline":"middle"}},"y":{"field":"v","type":"quantitative","scale":{"domain":[0,1.815],"nice":false},"axis":{"values":[0,0.5,1,1.5],"format":".1f","labelOverlap":false,"title":null}},"detail":{"field":"series"},"order":[{"field":"xe","type":"quantitative"},{"field":"k","type":"nominal"}]}},
  {"data":{"name":"b"},"transform":[{"filter":"datum.p==5"},{"fold":["d","s"],"as":["series","v"]},{"fold":["lo","hi"],"as":["k","xe"]}],"mark":{"type":"line","strokeWidth":1.3,"color":"#0000ff"},"encoding":{"x":{"field":"xe","type":"quantitative","axis":{"values":[0,0.5,1,1.5,2,2.5],"format":".1f","labelOverlap":false,"title":"qₜ","titleX":183,"titleY":7,"titleAlign":"right","titleBaseline":"middle"}},"y":{"field":"v","type":"quantitative","axis":{"values":[0,0.5,1,1.5],"format":".1f","labelOverlap":false,"title":null}},"strokeDash":{"field":"series","type":"nominal","scale":{"domain":["s","d"],"range":[[1,0],[4,2]]},"legend":null},"order":[{"field":"xe","type":"quantitative"},{"field":"k","type":"nominal"}]}},
  {"data":{"name":"red"},"transform":[{"filter":"datum.p==5"}],"mark":{"type":"rule","color":"#ff2a2a","strokeWidth":1,"strokeDash":[3,2]},"encoding":{"x":{"field":"q","type":"quantitative","axis":{"values":[0,0.5,1,1.5,2,2.5],"format":".1f","labelOverlap":false,"title":"qₜ","titleX":183,"titleY":7,"titleAlign":"right","titleBaseline":"middle"}}}},
  {"data":{"name":"b"},"transform":[{"filter":"datum.p==5"}],"mark":{"type":"errorbar","color":"black","thickness":1,"ticks":{"size":7}},"encoding":{"x":{"field":"q","type":"quantitative","axis":{"values":[0,0.5,1,1.5,2,2.5],"format":".1f","labelOverlap":false,"title":"qₜ","titleX":183,"titleY":7,"titleAlign":"right","titleBaseline":"middle"}},"y":{"field":"y","type":"quantitative","axis":{"values":[0,0.5,1,1.5],"format":".1f","labelOverlap":false,"title":null}},"yError":{"field":"e"}}},
  {"data":{"name":"b"},"transform":[{"filter":"datum.p==5"}],"mark":{"type":"circle","size":20,"color":"black","opacity":1},"encoding":{"x":{"field":"q","type":"quantitative","axis":{"values":[0,0.5,1,1.5,2,2.5],"format":".1f","labelOverlap":false,"title":"qₜ","titleX":183,"titleY":7,"titleAlign":"right","titleBaseline":"middle"}},"y":{"field":"y","type":"quantitative","axis":{"values":[0,0.5,1,1.5],"format":".1f","labelOverlap":false,"title":null}}}}
 ]},
 {"data":{"name":"notes"},"transform":[{"filter":"datum.p==5"}],"encoding":{"y":{"field":"line","type":"quantitative","scale":{"domain":[0.449,8.64],"reverse":true,"nice":false,"zero":false},"axis":null},"text":{"field":"t"}},"layer":[
  {"transform":[{"filter":"datum.m==0"}],"mark":{"type":"text","align":"right","baseline":"middle","fontSize":7.5,"color":"#333"},"encoding":{"x":{"datum":2.52,"type":"quantitative","axis":{"values":[0,0.5,1,1.5,2,2.5],"format":".1f","labelOverlap":false,"title":"qₜ","titleX":183,"titleY":7,"titleAlign":"right","titleBaseline":"middle"}}}},
  {"transform":[{"filter":"datum.m==1"}],"mark":{"type":"text","align":"left","baseline":"middle","dy":-3,"fontSize":7,"color":"#333"},"encoding":{"x":{"datum":0.09,"type":"quantitative","axis":{"values":[0,0.5,1,1.5,2,2.5],"format":".1f","labelOverlap":false,"title":"qₜ","titleX":183,"titleY":7,"titleAlign":"right","titleBaseline":"middle"}}}}
 ]}
]},
{"width":181,"height":104,"resolve":{"scale":{"y":"independent"}},"layer":[
 {"layer":[
  {"data":{"name":"b"},"transform":[{"filter":"datum.p==6"},{"fold":["d","s"],"as":["series","v"]},{"fold":["lo","hi"],"as":["k","xe"]}],"mark":{"type":"line","strokeWidth":3.5,"color":"#7a7aff","opacity":0.3},"encoding":{"x":{"field":"xe","type":"quantitative","scale":{"domain":[0,2.78],"nice":false,"zero":false},"axis":{"values":[0,0.5,1,1.5,2,2.5],"format":".1f","labelOverlap":false,"title":"qₜ","titleX":183,"titleY":7,"titleAlign":"right","titleBaseline":"middle"}},"y":{"field":"v","type":"quantitative","scale":{"domain":[0,8.81],"nice":false},"axis":{"values":[0,2,4,6,8],"format":"d","labelOverlap":false,"title":null}},"detail":{"field":"series"},"order":[{"field":"xe","type":"quantitative"},{"field":"k","type":"nominal"}]}},
  {"data":{"name":"b"},"transform":[{"filter":"datum.p==6"},{"fold":["d","s"],"as":["series","v"]},{"fold":["lo","hi"],"as":["k","xe"]}],"mark":{"type":"line","strokeWidth":1.3,"color":"#0000ff"},"encoding":{"x":{"field":"xe","type":"quantitative","axis":{"values":[0,0.5,1,1.5,2,2.5],"format":".1f","labelOverlap":false,"title":"qₜ","titleX":183,"titleY":7,"titleAlign":"right","titleBaseline":"middle"}},"y":{"field":"v","type":"quantitative","axis":{"values":[0,2,4,6,8],"format":"d","labelOverlap":false,"title":null}},"strokeDash":{"field":"series","type":"nominal","scale":{"domain":["s","d"],"range":[[1,0],[4,2]]},"legend":null},"order":[{"field":"xe","type":"quantitative"},{"field":"k","type":"nominal"}]}},
  {"data":{"name":"red"},"transform":[{"filter":"datum.p==6"}],"mark":{"type":"rule","color":"#ff2a2a","strokeWidth":1,"strokeDash":[3,2]},"encoding":{"x":{"field":"q","type":"quantitative","axis":{"values":[0,0.5,1,1.5,2,2.5],"format":".1f","labelOverlap":false,"title":"qₜ","titleX":183,"titleY":7,"titleAlign":"right","titleBaseline":"middle"}}}},
  {"data":{"name":"b"},"transform":[{"filter":"datum.p==6"}],"mark":{"type":"errorbar","color":"black","thickness":1,"ticks":{"size":7}},"encoding":{"x":{"field":"q","type":"quantitative","axis":{"values":[0,0.5,1,1.5,2,2.5],"format":".1f","labelOverlap":false,"title":"qₜ","titleX":183,"titleY":7,"titleAlign":"right","titleBaseline":"middle"}},"y":{"field":"y","type":"quantitative","axis":{"values":[0,2,4,6,8],"format":"d","labelOverlap":false,"title":null}},"yError":{"field":"e"}}},
  {"data":{"name":"b"},"transform":[{"filter":"datum.p==6"}],"mark":{"type":"circle","size":20,"color":"black","opacity":1},"encoding":{"x":{"field":"q","type":"quantitative","axis":{"values":[0,0.5,1,1.5,2,2.5],"format":".1f","labelOverlap":false,"title":"qₜ","titleX":183,"titleY":7,"titleAlign":"right","titleBaseline":"middle"}},"y":{"field":"y","type":"quantitative","axis":{"values":[0,2,4,6,8],"format":"d","labelOverlap":false,"title":null}}}}
 ]},
 {"data":{"name":"notes"},"transform":[{"filter":"datum.p==6"}],"encoding":{"y":{"field":"line","type":"quantitative","scale":{"domain":[0.449,8.64],"reverse":true,"nice":false,"zero":false},"axis":null},"text":{"field":"t"}},"layer":[
  {"transform":[{"filter":"datum.m==0"}],"mark":{"type":"text","align":"right","baseline":"middle","fontSize":7.5,"color":"#333"},"encoding":{"x":{"datum":2.52,"type":"quantitative","axis":{"values":[0,0.5,1,1.5,2,2.5],"format":".1f","labelOverlap":false,"title":"qₜ","titleX":183,"titleY":7,"titleAlign":"right","titleBaseline":"middle"}}}},
  {"transform":[{"filter":"datum.m==1"}],"mark":{"type":"text","align":"left","baseline":"middle","dy":-3,"fontSize":7,"color":"#333"},"encoding":{"x":{"datum":0.09,"type":"quantitative","axis":{"values":[0,0.5,1,1.5,2,2.5],"format":".1f","labelOverlap":false,"title":"qₜ","titleX":183,"titleY":7,"titleAlign":"right","titleBaseline":"middle"}}}}
 ]}
]},
{"width":181,"height":104,"resolve":{"scale":{"y":"independent"}},"layer":[
 {"layer":[
  {"data":{"name":"b"},"transform":[{"filter":"datum.p==7"},{"fold":["d","s"],"as":["series","v"]},{"fold":["lo","hi"],"as":["k","xe"]}],"mark":{"type":"line","strokeWidth":3.5,"color":"#7a7aff","opacity":0.3},"encoding":{"x":{"field":"xe","type":"quantitative","scale":{"domain":[0,2.78],"nice":false,"zero":false},"axis":{"values":[0,0.5,1,1.5,2,2.5],"format":".1f","labelOverlap":false,"title":"qₜ","titleX":183,"titleY":7,"titleAlign":"right","titleBaseline":"middle"}},"y":{"field":"v","type":"quantitative","scale":{"domain":[0,4.66],"nice":false},"axis":{"values":[0,1,2,3,4],"format":"d","labelOverlap":false,"title":null}},"detail":{"field":"series"},"order":[{"field":"xe","type":"quantitative"},{"field":"k","type":"nominal"}]}},
  {"data":{"name":"b"},"transform":[{"filter":"datum.p==7"},{"fold":["d","s"],"as":["series","v"]},{"fold":["lo","hi"],"as":["k","xe"]}],"mark":{"type":"line","strokeWidth":1.3,"color":"#0000ff"},"encoding":{"x":{"field":"xe","type":"quantitative","axis":{"values":[0,0.5,1,1.5,2,2.5],"format":".1f","labelOverlap":false,"title":"qₜ","titleX":183,"titleY":7,"titleAlign":"right","titleBaseline":"middle"}},"y":{"field":"v","type":"quantitative","axis":{"values":[0,1,2,3,4],"format":"d","labelOverlap":false,"title":null}},"strokeDash":{"field":"series","type":"nominal","scale":{"domain":["s","d"],"range":[[1,0],[4,2]]},"legend":null},"order":[{"field":"xe","type":"quantitative"},{"field":"k","type":"nominal"}]}},
  {"data":{"name":"red"},"transform":[{"filter":"datum.p==7"}],"mark":{"type":"rule","color":"#ff2a2a","strokeWidth":1,"strokeDash":[3,2]},"encoding":{"x":{"field":"q","type":"quantitative","axis":{"values":[0,0.5,1,1.5,2,2.5],"format":".1f","labelOverlap":false,"title":"qₜ","titleX":183,"titleY":7,"titleAlign":"right","titleBaseline":"middle"}}}},
  {"data":{"name":"b"},"transform":[{"filter":"datum.p==7"}],"mark":{"type":"errorbar","color":"black","thickness":1,"ticks":{"size":7}},"encoding":{"x":{"field":"q","type":"quantitative","axis":{"values":[0,0.5,1,1.5,2,2.5],"format":".1f","labelOverlap":false,"title":"qₜ","titleX":183,"titleY":7,"titleAlign":"right","titleBaseline":"middle"}},"y":{"field":"y","type":"quantitative","axis":{"values":[0,1,2,3,4],"format":"d","labelOverlap":false,"title":null}},"yError":{"field":"e"}}},
  {"data":{"name":"b"},"transform":[{"filter":"datum.p==7"}],"mark":{"type":"circle","size":20,"color":"black","opacity":1},"encoding":{"x":{"field":"q","type":"quantitative","axis":{"values":[0,0.5,1,1.5,2,2.5],"format":".1f","labelOverlap":false,"title":"qₜ","titleX":183,"titleY":7,"titleAlign":"right","titleBaseline":"middle"}},"y":{"field":"y","type":"quantitative","axis":{"values":[0,1,2,3,4],"format":"d","labelOverlap":false,"title":null}}}}
 ]},
 {"data":{"name":"notes"},"transform":[{"filter":"datum.p==7"}],"encoding":{"y":{"field":"line","type":"quantitative","scale":{"domain":[0.449,8.64],"reverse":true,"nice":false,"zero":false},"axis":null},"text":{"field":"t"}},"layer":[
  {"transform":[{"filter":"datum.m==0"}],"mark":{"type":"text","align":"right","baseline":"middle","fontSize":7.5,"color":"#333"},"encoding":{"x":{"datum":2.52,"type":"quantitative","axis":{"values":[0,0.5,1,1.5,2,2.5],"format":".1f","labelOverlap":false,"title":"qₜ","titleX":183,"titleY":7,"titleAlign":"right","titleBaseline":"middle"}}}},
  {"transform":[{"filter":"datum.m==1"}],"mark":{"type":"text","align":"left","baseline":"middle","dy":-3,"fontSize":7,"color":"#333"},"encoding":{"x":{"datum":0.09,"type":"quantitative","axis":{"values":[0,0.5,1,1.5,2,2.5],"format":".1f","labelOverlap":false,"title":"qₜ","titleX":183,"titleY":7,"titleAlign":"right","titleBaseline":"middle"}}}}
 ]}
]},
{"width":181,"height":104,"resolve":{"scale":{"y":"independent"}},"layer":[
 {"layer":[
  {"data":{"name":"b"},"transform":[{"filter":"datum.p==8"},{"fold":["d","s"],"as":["series","v"]},{"fold":["lo","hi"],"as":["k","xe"]}],"mark":{"type":"line","strokeWidth":3.5,"color":"#7a7aff","opacity":0.3},"encoding":{"x":{"field":"xe","type":"quantitative","scale":{"domain":[0,2.78],"nice":false,"zero":false},"axis":{"values":[0,0.5,1,1.5,2,2.5],"format":".1f","labelOverlap":false,"title":"qₜ","titleX":183,"titleY":7,"titleAlign":"right","titleBaseline":"middle"}},"y":{"field":"v","type":"quantitative","scale":{"domain":[0,3.75],"nice":false},"axis":{"values":[0,0.5,1,1.5,2,2.5,3,3.5],"format":".1f","labelOverlap":false,"title":null}},"detail":{"field":"series"},"order":[{"field":"xe","type":"quantitative"},{"field":"k","type":"nominal"}]}},
  {"data":{"name":"b"},"transform":[{"filter":"datum.p==8"},{"fold":["d","s"],"as":["series","v"]},{"fold":["lo","hi"],"as":["k","xe"]}],"mark":{"type":"line","strokeWidth":1.3,"color":"#0000ff"},"encoding":{"x":{"field":"xe","type":"quantitative","axis":{"values":[0,0.5,1,1.5,2,2.5],"format":".1f","labelOverlap":false,"title":"qₜ","titleX":183,"titleY":7,"titleAlign":"right","titleBaseline":"middle"}},"y":{"field":"v","type":"quantitative","axis":{"values":[0,0.5,1,1.5,2,2.5,3,3.5],"format":".1f","labelOverlap":false,"title":null}},"strokeDash":{"field":"series","type":"nominal","scale":{"domain":["s","d"],"range":[[1,0],[4,2]]},"legend":null},"order":[{"field":"xe","type":"quantitative"},{"field":"k","type":"nominal"}]}},
  {"data":{"name":"red"},"transform":[{"filter":"datum.p==8"}],"mark":{"type":"rule","color":"#ff2a2a","strokeWidth":1,"strokeDash":[3,2]},"encoding":{"x":{"field":"q","type":"quantitative","axis":{"values":[0,0.5,1,1.5,2,2.5],"format":".1f","labelOverlap":false,"title":"qₜ","titleX":183,"titleY":7,"titleAlign":"right","titleBaseline":"middle"}}}},
  {"data":{"name":"b"},"transform":[{"filter":"datum.p==8"}],"mark":{"type":"errorbar","color":"black","thickness":1,"ticks":{"size":7}},"encoding":{"x":{"field":"q","type":"quantitative","axis":{"values":[0,0.5,1,1.5,2,2.5],"format":".1f","labelOverlap":false,"title":"qₜ","titleX":183,"titleY":7,"titleAlign":"right","titleBaseline":"middle"}},"y":{"field":"y","type":"quantitative","axis":{"values":[0,0.5,1,1.5,2,2.5,3,3.5],"format":".1f","labelOverlap":false,"title":null}},"yError":{"field":"e"}}},
  {"data":{"name":"b"},"transform":[{"filter":"datum.p==8"}],"mark":{"type":"circle","size":20,"color":"black","opacity":1},"encoding":{"x":{"field":"q","type":"quantitative","axis":{"values":[0,0.5,1,1.5,2,2.5],"format":".1f","labelOverlap":false,"title":"qₜ","titleX":183,"titleY":7,"titleAlign":"right","titleBaseline":"middle"}},"y":{"field":"y","type":"quantitative","axis":{"values":[0,0.5,1,1.5,2,2.5,3,3.5],"format":".1f","labelOverlap":false,"title":null}}}}
 ]},
 {"data":{"name":"notes"},"transform":[{"filter":"datum.p==8"}],"encoding":{"y":{"field":"line","type":"quantitative","scale":{"domain":[0.449,8.64],"reverse":true,"nice":false,"zero":false},"axis":null},"text":{"field":"t"}},"layer":[
  {"transform":[{"filter":"datum.m==0"}],"mark":{"type":"text","align":"right","baseline":"middle","fontSize":7.5,"color":"#333"},"encoding":{"x":{"datum":2.52,"type":"quantitative","axis":{"values":[0,0.5,1,1.5,2,2.5],"format":".1f","labelOverlap":false,"title":"qₜ","titleX":183,"titleY":7,"titleAlign":"right","titleBaseline":"middle"}}}},
  {"transform":[{"filter":"datum.m==1"}],"mark":{"type":"text","align":"left","baseline":"middle","dy":-3,"fontSize":7,"color":"#333"},"encoding":{"x":{"datum":0.09,"type":"quantitative","axis":{"values":[0,0.5,1,1.5,2,2.5],"format":".1f","labelOverlap":false,"title":"qₜ","titleX":183,"titleY":7,"titleAlign":"right","titleBaseline":"middle"}}}}
 ]}
]},
{"width":181,"height":104,"resolve":{"scale":{"y":"independent"}},"layer":[
 {"layer":[
  {"data":{"name":"b"},"transform":[{"filter":"datum.p==9"},{"fold":["d","s"],"as":["series","v"]},{"fold":["lo","hi"],"as":["k","xe"]}],"mark":{"type":"line","strokeWidth":3.5,"color":"#7a7aff","opacity":0.3},"encoding":{"x":{"field":"xe","type":"quantitative","scale":{"domain":[0,2.78],"nice":false,"zero":false},"axis":{"values":[0,0.5,1,1.5,2,2.5],"format":".1f","labelOverlap":false,"title":"qₜ","titleX":183,"titleY":7,"titleAlign":"right","titleBaseline":"middle"}},"y":{"field":"v","type":"quantitative","scale":{"domain":[0,1.248],"nice":false},"axis":{"values":[0,0.2,0.4,0.6,0.8,1,1.2],"format":".1f","labelOverlap":false,"title":null}},"detail":{"field":"series"},"order":[{"field":"xe","type":"quantitative"},{"field":"k","type":"nominal"}]}},
  {"data":{"name":"b"},"transform":[{"filter":"datum.p==9"},{"fold":["d","s"],"as":["series","v"]},{"fold":["lo","hi"],"as":["k","xe"]}],"mark":{"type":"line","strokeWidth":1.3,"color":"#0000ff"},"encoding":{"x":{"field":"xe","type":"quantitative","axis":{"values":[0,0.5,1,1.5,2,2.5],"format":".1f","labelOverlap":false,"title":"qₜ","titleX":183,"titleY":7,"titleAlign":"right","titleBaseline":"middle"}},"y":{"field":"v","type":"quantitative","axis":{"values":[0,0.2,0.4,0.6,0.8,1,1.2],"format":".1f","labelOverlap":false,"title":null}},"strokeDash":{"field":"series","type":"nominal","scale":{"domain":["s","d"],"range":[[1,0],[4,2]]},"legend":null},"order":[{"field":"xe","type":"quantitative"},{"field":"k","type":"nominal"}]}},
  {"data":{"name":"red"},"transform":[{"filter":"datum.p==9"}],"mark":{"type":"rule","color":"#ff2a2a","strokeWidth":1,"strokeDash":[3,2]},"encoding":{"x":{"field":"q","type":"quantitative","axis":{"values":[0,0.5,1,1.5,2,2.5],"format":".1f","labelOverlap":false,"title":"qₜ","titleX":183,"titleY":7,"titleAlign":"right","titleBaseline":"middle"}}}},
  {"data":{"name":"b"},"transform":[{"filter":"datum.p==9"}],"mark":{"type":"errorbar","color":"black","thickness":1,"ticks":{"size":7}},"encoding":{"x":{"field":"q","type":"quantitative","axis":{"values":[0,0.5,1,1.5,2,2.5],"format":".1f","labelOverlap":false,"title":"qₜ","titleX":183,"titleY":7,"titleAlign":"right","titleBaseline":"middle"}},"y":{"field":"y","type":"quantitative","axis":{"values":[0,0.2,0.4,0.6,0.8,1,1.2],"format":".1f","labelOverlap":false,"title":null}},"yError":{"field":"e"}}},
  {"data":{"name":"b"},"transform":[{"filter":"datum.p==9"}],"mark":{"type":"circle","size":20,"color":"black","opacity":1},"encoding":{"x":{"field":"q","type":"quantitative","axis":{"values":[0,0.5,1,1.5,2,2.5],"format":".1f","labelOverlap":false,"title":"qₜ","titleX":183,"titleY":7,"titleAlign":"right","titleBaseline":"middle"}},"y":{"field":"y","type":"quantitative","axis":{"values":[0,0.2,0.4,0.6,0.8,1,1.2],"format":".1f","labelOverlap":false,"title":null}}}}
 ]},
 {"data":{"name":"notes"},"transform":[{"filter":"datum.p==9"}],"encoding":{"y":{"field":"line","type":"quantitative","scale":{"domain":[0.449,8.64],"reverse":true,"nice":false,"zero":false},"axis":null},"text":{"field":"t"}},"layer":[
  {"transform":[{"filter":"datum.m==0"}],"mark":{"type":"text","align":"right","baseline":"middle","fontSize":7.5,"color":"#333"},"encoding":{"x":{"datum":2.52,"type":"quantitative","axis":{"values":[0,0.5,1,1.5,2,2.5],"format":".1f","labelOverlap":false,"title":"qₜ","titleX":183,"titleY":7,"titleAlign":"right","titleBaseline":"middle"}}}},
  {"transform":[{"filter":"datum.m==1"}],"mark":{"type":"text","align":"left","baseline":"middle","dy":-3,"fontSize":7,"color":"#333"},"encoding":{"x":{"datum":0.09,"type":"quantitative","axis":{"values":[0,0.5,1,1.5,2,2.5],"format":".1f","labelOverlap":false,"title":"qₜ","titleX":183,"titleY":7,"titleAlign":"right","titleBaseline":"middle"}}}}
 ]}
]},
{"width":181,"height":104,"resolve":{"scale":{"y":"independent"}},"layer":[
 {"layer":[
  {"data":{"name":"b"},"transform":[{"filter":"datum.p==10"},{"fold":["d","s"],"as":["series","v"]},{"fold":["lo","hi"],"as":["k","xe"]}],"mark":{"type":"line","strokeWidth":3.5,"color":"#7a7aff","opacity":0.3},"encoding":{"x":{"field":"xe","type":"quantitative","scale":{"domain":[0,2.78],"nice":false,"zero":false},"axis":{"values":[0,0.5,1,1.5,2,2.5],"format":".1f","labelOverlap":false,"title":"qₜ","titleX":183,"titleY":7,"titleAlign":"right","titleBaseline":"middle"}},"y":{"field":"v","type":"quantitative","scale":{"domain":[0,8.32],"nice":false},"axis":{"values":[0,2,4,6,8],"format":"d","labelOverlap":false,"title":null}},"detail":{"field":"series"},"order":[{"field":"xe","type":"quantitative"},{"field":"k","type":"nominal"}]}},
  {"data":{"name":"b"},"transform":[{"filter":"datum.p==10"},{"fold":["d","s"],"as":["series","v"]},{"fold":["lo","hi"],"as":["k","xe"]}],"mark":{"type":"line","strokeWidth":1.3,"color":"#0000ff"},"encoding":{"x":{"field":"xe","type":"quantitative","axis":{"values":[0,0.5,1,1.5,2,2.5],"format":".1f","labelOverlap":false,"title":"qₜ","titleX":183,"titleY":7,"titleAlign":"right","titleBaseline":"middle"}},"y":{"field":"v","type":"quantitative","axis":{"values":[0,2,4,6,8],"format":"d","labelOverlap":false,"title":null}},"strokeDash":{"field":"series","type":"nominal","scale":{"domain":["s","d"],"range":[[1,0],[4,2]]},"legend":null},"order":[{"field":"xe","type":"quantitative"},{"field":"k","type":"nominal"}]}},
  {"data":{"name":"red"},"transform":[{"filter":"datum.p==10"}],"mark":{"type":"rule","color":"#ff2a2a","strokeWidth":1,"strokeDash":[3,2]},"encoding":{"x":{"field":"q","type":"quantitative","axis":{"values":[0,0.5,1,1.5,2,2.5],"format":".1f","labelOverlap":false,"title":"qₜ","titleX":183,"titleY":7,"titleAlign":"right","titleBaseline":"middle"}}}},
  {"data":{"name":"b"},"transform":[{"filter":"datum.p==10"}],"mark":{"type":"errorbar","color":"black","thickness":1,"ticks":{"size":7}},"encoding":{"x":{"field":"q","type":"quantitative","axis":{"values":[0,0.5,1,1.5,2,2.5],"format":".1f","labelOverlap":false,"title":"qₜ","titleX":183,"titleY":7,"titleAlign":"right","titleBaseline":"middle"}},"y":{"field":"y","type":"quantitative","axis":{"values":[0,2,4,6,8],"format":"d","labelOverlap":false,"title":null}},"yError":{"field":"e"}}},
  {"data":{"name":"b"},"transform":[{"filter":"datum.p==10"}],"mark":{"type":"circle","size":20,"color":"black","opacity":1},"encoding":{"x":{"field":"q","type":"quantitative","axis":{"values":[0,0.5,1,1.5,2,2.5],"format":".1f","labelOverlap":false,"title":"qₜ","titleX":183,"titleY":7,"titleAlign":"right","titleBaseline":"middle"}},"y":{"field":"y","type":"quantitative","axis":{"values":[0,2,4,6,8],"format":"d","labelOverlap":false,"title":null}}}}
 ]},
 {"data":{"name":"notes"},"transform":[{"filter":"datum.p==10"}],"encoding":{"y":{"field":"line","type":"quantitative","scale":{"domain":[0.449,8.64],"reverse":true,"nice":false,"zero":false},"axis":null},"text":{"field":"t"}},"layer":[
  {"transform":[{"filter":"datum.m==0"}],"mark":{"type":"text","align":"right","baseline":"middle","fontSize":7.5,"color":"#333"},"encoding":{"x":{"datum":2.52,"type":"quantitative","axis":{"values":[0,0.5,1,1.5,2,2.5],"format":".1f","labelOverlap":false,"title":"qₜ","titleX":183,"titleY":7,"titleAlign":"right","titleBaseline":"middle"}}}},
  {"transform":[{"filter":"datum.m==1"}],"mark":{"type":"text","align":"left","baseline":"middle","dy":-3,"fontSize":7,"color":"#333"},"encoding":{"x":{"datum":0.09,"type":"quantitative","axis":{"values":[0,0.5,1,1.5,2,2.5],"format":".1f","labelOverlap":false,"title":"qₜ","titleX":183,"titleY":7,"titleAlign":"right","titleBaseline":"middle"}}}}
 ]}
]},
{"width":181,"height":104,"data":{"name":"foot"},"mark":{"type":"text","align":"center","baseline":"middle","fontSize":9,"color":"#222"},"encoding":{"x":{"datum":2.88,"type":"quantitative","scale":{"domain":[0,2.78],"nice":false,"zero":false},"axis":null},"y":{"field":"line","type":"quantitative","scale":{"domain":[-0.69,2.896],"reverse":true,"nice":false,"zero":false},"axis":null},"text":{"field":"t"}}},
{"width":181,"height":104,"data":{"name":"tag"},"mark":{"type":"text","align":"right","baseline":"middle","dy":1,"font":"DejaVu Sans Mono","fontSize":7,"color":"#999"},"encoding":{"x":{"datum":2.81,"type":"quantitative","scale":{"domain":[0,2.78],"nice":false,"zero":false},"axis":null},"y":{"field":"line","type":"quantitative","scale":{"domain":[0.449,8.64],"reverse":true,"nice":false,"zero":false},"axis":null},"text":{"field":"t"}}}
],
"columns":3,
"spacing":{"row":12,"column":14},
"bounds":"flush",
"config":{
"view":{"stroke":null},
"text":{"font":"Liberation Serif"},
"axis":{"grid":false,"labelFont":"Liberation Sans","labelFontSize":6,"labelColor":"#555","labelPadding":1,"labelFlush":false,"labelOverlap":false,"domainColor":"#777","domainWidth":0.8,"tickColor":"#777","tickWidth":0.8,"tickSize":2.5,"titleFont":"Liberation Serif","titleFontSize":7.5,"titleFontWeight":"normal","titleFontStyle":"italic","titleColor":"#333"}
}
}
